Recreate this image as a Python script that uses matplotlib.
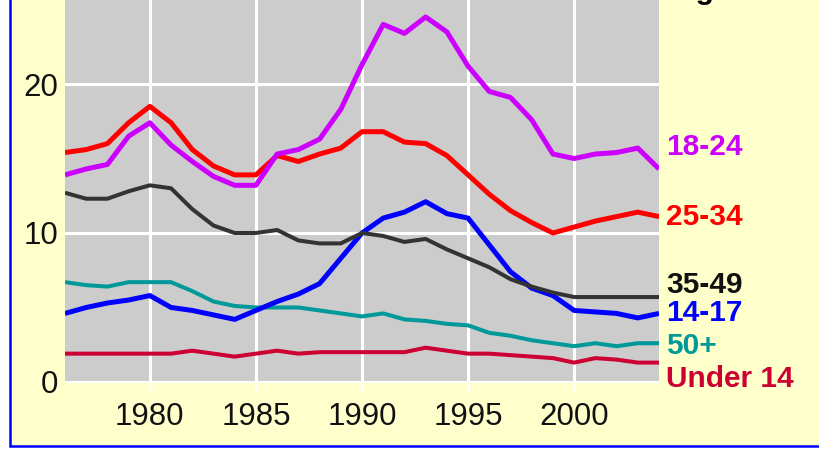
import matplotlib
matplotlib.use("Agg")
import matplotlib.pyplot as plt
from matplotlib.patches import Rectangle

# values (annual, 1976-2004)
years = list(range(1976, 2005))

age_18_24 = [13.9, 14.3, 14.6, 16.5, 17.4, 15.9, 14.8, 13.8, 13.2, 13.2,
             15.3, 15.6, 16.3, 18.3, 21.3, 24.0, 23.4, 24.5, 23.5, 21.2,
             19.5, 19.1, 17.6, 15.3, 15.0, 15.3, 15.4, 15.7, 14.3]
age_25_34 = [15.4, 15.6, 16.0, 17.4, 18.5, 17.4, 15.6, 14.5, 13.9, 13.9,
             15.2, 14.8, 15.3, 15.7, 16.8, 16.8, 16.1, 16.0, 15.2, 13.9,
             12.6, 11.5, 10.7, 10.0, 10.4, 10.8, 11.1, 11.4, 11.1]
age_35_49 = [12.7, 12.3, 12.3, 12.8, 13.2, 13.0, 11.6, 10.5, 10.0, 10.0,
             10.2, 9.5, 9.3, 9.3, 10.0, 9.8, 9.4, 9.6, 8.9, 8.3,
             7.7, 6.9, 6.4, 6.0, 5.7, 5.7, 5.7, 5.7, 5.7]
age_14_17 = [4.6, 5.0, 5.3, 5.5, 5.8, 5.0, 4.8, 4.5, 4.2, 4.8,
             5.4, 5.9, 6.6, 8.3, 10.0, 11.0, 11.4, 12.1, 11.3, 11.0,
             9.2, 7.4, 6.3, 5.8, 4.8, 4.7, 4.6, 4.3, 4.6]
age_50_up = [6.7, 6.5, 6.4, 6.7, 6.7, 6.7, 6.1, 5.4, 5.1, 5.0,
             5.0, 5.0, 4.8, 4.6, 4.4, 4.6, 4.2, 4.1, 3.9, 3.8,
             3.3, 3.1, 2.8, 2.6, 2.4, 2.6, 2.4, 2.6, 2.6]
under_14 = [1.9, 1.9, 1.9, 1.9, 1.9, 1.9, 2.1, 1.9, 1.7, 1.9,
            2.1, 1.9, 2.0, 2.0, 2.0, 2.0, 2.0, 2.3, 2.1, 1.9,
            1.9, 1.8, 1.7, 1.6, 1.3, 1.6, 1.5, 1.3, 1.3]

x_ticks = [1980, 1985, 1990, 1995, 2000]
y_ticks = [0, 10, 20]

# (label, values, line colour, text colour, line width, label y) -- bottom to top
series = [
    ("Under 14", under_14, "#CC0033", "#CC0033", 2.9, 0.2),
    ("50+", age_50_up, "#009999", "#009999", 2.9, 2.4),
    ("14-17", age_14_17, "#0000FF", "#0000FF", 3.6, 4.6),
    ("35-49", age_35_49, "#333333", "#111111", 2.9, 6.5),
    ("25-34", age_25_34, "#FF0000", "#FF0000", 3.6, 11.1),
    ("18-24", age_18_24, "#CC00FF", "#CC00FF", 3.6, 15.8),
]

W, H = 820, 474
fig = plt.figure(figsize=(W / 100, H / 100), dpi=100)
fig.patch.set_facecolor("white")

# pale yellow panel with blue frame (top/right edges run off the canvas)
fig.patches.append(Rectangle((10 / W, (H - 446) / H), 1.2, 1.2,
                             transform=fig.transFigure, facecolor="#FFFFCC",
                             edgecolor="#0000FF", lw=1.8, zorder=-10))

ax = fig.add_axes([65 / W, (H - 383) / H, (659 - 65) / W, 383 / H])
ax.set_zorder(1)
ax.set_facecolor("#CCCCCC")
for s in ax.spines.values():
    s.set_visible(False)

for name, vals, col, tcol, lw, ly in series:
    ax.plot(years, vals, color=col, lw=lw, solid_joinstyle="round",
            solid_capstyle="butt", zorder=3)
    ax.text(1.012, ly, name, transform=ax.get_yaxis_transform(),
            color=tcol, fontsize=21.5, fontweight="bold", family="Liberation Sans",
            ha="left", va="center", clip_on=False)

ax.set_xlim(1976, 2004)
ax.set_ylim(-0.07, 25.64)
ax.set_xticks(x_ticks)
ax.set_yticks(y_ticks)
ax.grid(True, color="white", lw=2.2, zorder=1)
ax.set_axisbelow(True)
ax.tick_params(axis="x", length=6, width=2.2, color="white", pad=8,
               labelsize=22.5, labelcolor="#111111")
ax.tick_params(axis="y", length=0, pad=5, labelsize=22.5, labelcolor="#111111")
for lab in ax.get_xticklabels() + ax.get_yticklabels():
    lab.set_family("Liberation Sans")

# title word above the visible area; only its descender shows
fig.text(674 / W, 1 + 1 / H, "Age", color="black", fontsize=21.5,
         fontweight="bold", family="Liberation Sans", ha="left", va="baseline")

fig.savefig("out.png", dpi=100)
